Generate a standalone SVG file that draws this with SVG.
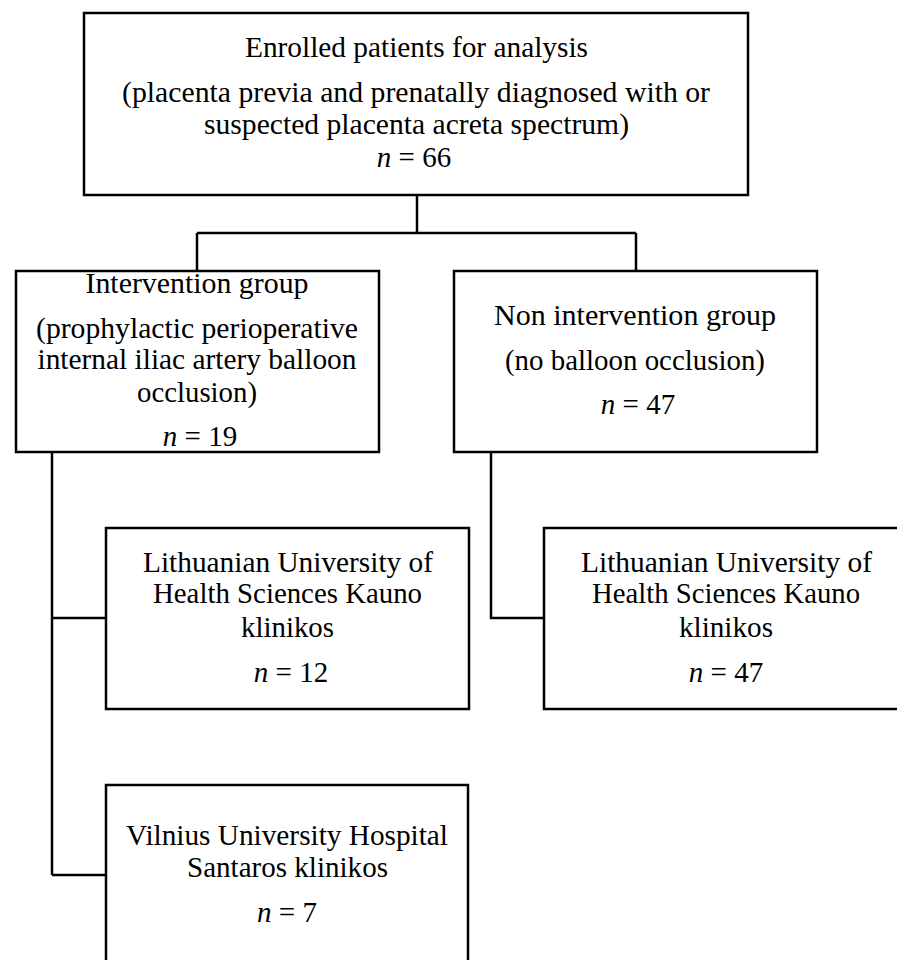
<svg xmlns="http://www.w3.org/2000/svg" width="897" height="960" viewBox="0 0 897 960">
<style>
.box{fill:#fff;stroke:#000;stroke-width:2.5}
.ln{fill:none;stroke:#000;stroke-width:2.5}
text{font-family:"Liberation Serif","Times New Roman",serif;font-size:29px;fill:#000;text-anchor:middle}
.i{font-style:italic}
</style>
<rect width="897" height="960" fill="#fff"/>
<g id="connectors">
<path class="ln" d="M417,195 V233 M197,233 H636 M197,233 V271 M636,233 V271"/>
<path class="ln" d="M52,452 V875 M52,618 H106 M52,875 H106"/>
<path class="ln" d="M491,452 V618 H544"/>
</g>
<g id="enrolled">
<rect class="box" x="84" y="13" width="664" height="182"/>
<text x="416.5" y="57" textLength="343" lengthAdjust="spacingAndGlyphs">Enrolled patients for analysis</text>
<text x="416" y="102" textLength="588" lengthAdjust="spacingAndGlyphs">(placenta previa and prenatally diagnosed with or</text>
<text x="416.5" y="134" textLength="425" lengthAdjust="spacingAndGlyphs">suspected placenta acreta spectrum)</text>
<text x="414" y="167"><tspan class="i">n</tspan> = 66</text>
</g>
<g id="intervention">
<rect class="box" x="16" y="271" width="363" height="181"/>
<text x="197" y="293" textLength="223" lengthAdjust="spacingAndGlyphs">Intervention group</text>
<text x="197" y="338" textLength="322" lengthAdjust="spacingAndGlyphs">(prophylactic perioperative</text>
<text x="197" y="369" textLength="319" lengthAdjust="spacingAndGlyphs">internal iliac artery balloon</text>
<text x="197" y="402" textLength="120" lengthAdjust="spacingAndGlyphs">occlusion)</text>
<text x="200" y="446"><tspan class="i">n</tspan> = 19</text>
</g>
<g id="nonintervention">
<rect class="box" x="454" y="271" width="363" height="181"/>
<text x="635" y="325" textLength="282" lengthAdjust="spacingAndGlyphs">Non intervention group</text>
<text x="635" y="370" textLength="260" lengthAdjust="spacingAndGlyphs">(no balloon occlusion)</text>
<text x="638" y="414"><tspan class="i">n</tspan> = 47</text>
</g>
<g id="lithuanian-intervention">
<rect class="box" x="106" y="528" width="363" height="181"/>
<text x="288" y="572" textLength="290" lengthAdjust="spacingAndGlyphs">Lithuanian University of</text>
<text x="287.5" y="603" textLength="269" lengthAdjust="spacingAndGlyphs">Health Sciences Kauno</text>
<text x="287.5" y="637" textLength="93" lengthAdjust="spacingAndGlyphs">klinikos</text>
<text x="291" y="682"><tspan class="i">n</tspan> = 12</text>
</g>
<g id="lithuanian-nonintervention">
<rect class="box" x="544" y="528" width="363" height="181"/>
<text x="726.5" y="572" textLength="291" lengthAdjust="spacingAndGlyphs">Lithuanian University of</text>
<text x="726" y="603" textLength="268" lengthAdjust="spacingAndGlyphs">Health Sciences Kauno</text>
<text x="726" y="637" textLength="94" lengthAdjust="spacingAndGlyphs">klinikos</text>
<text x="726" y="682"><tspan class="i">n</tspan> = 47</text>
</g>
<g id="vilnius">
<rect class="box" x="106" y="785" width="362" height="185"/>
<text x="287" y="845" textLength="322" lengthAdjust="spacingAndGlyphs">Vilnius University Hospital</text>
<text x="287.5" y="877" textLength="201" lengthAdjust="spacingAndGlyphs">Santaros klinikos</text>
<text x="287" y="922"><tspan class="i">n</tspan> = 7</text>
</g>
</svg>
